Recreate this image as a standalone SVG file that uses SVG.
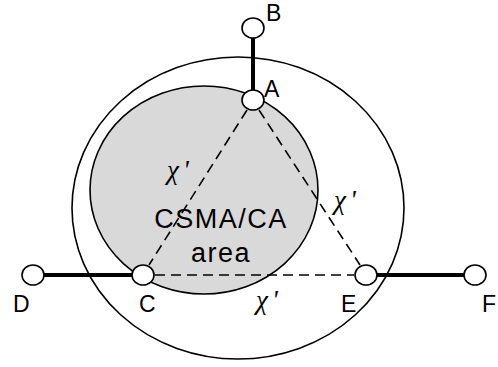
<svg xmlns="http://www.w3.org/2000/svg" width="498" height="367" viewBox="0 0 498 367">
<style>
.area{fill:none;stroke:#000;stroke-width:1.6}
.thick{stroke:#000;stroke-width:4;fill:none}
.dash{stroke:#000;stroke-width:1.6;stroke-dasharray:10 6;fill:none}
.node{fill:#fff;stroke:#000;stroke-width:1.6}
.lbl{font-family:"Liberation Sans",Arial,sans-serif;font-size:23px;fill:#000}
.big{font-family:"Liberation Sans",Arial,sans-serif;font-size:27px;letter-spacing:1.5px;fill:#000;text-anchor:middle}
.chi{font-family:"Liberation Serif","Times New Roman",serif;font-style:italic;font-size:27px;fill:#000}
</style>
<rect width="498" height="367" fill="#fff"/>
<g id="outer-range">
<ellipse cx="238" cy="208" rx="166" ry="151" class="area"/>
</g>
<g id="csma-area">
<ellipse cx="204" cy="190" rx="114" ry="104" fill="#d9d9d9" stroke="#000" stroke-width="1.6"/>
<text class="big" x="221" y="228">CSMA/CA</text>
<text class="big" x="221" y="262">area</text>
</g>
<g id="connectors">
<line x1="253" y1="38" x2="253" y2="90" class="thick"/>
<line x1="44" y1="275" x2="132" y2="275" class="thick"/>
<line x1="377" y1="275" x2="464" y2="275" class="thick"/>
<line x1="247" y1="110" x2="149" y2="265" class="dash"/>
<line x1="259" y1="110" x2="360" y2="265" class="dash"/>
<line x1="155" y1="275" x2="354" y2="275" class="dash"/>
</g>
<g id="labels-x">
<text class="chi" x="167" y="179">χ<tspan dx="4">'</tspan></text>
<text class="chi" x="334" y="209">χ<tspan dx="4">'</tspan></text>
<text class="chi" x="256" y="309">χ<tspan dx="4">'</tspan></text>
</g>
<g id="node-B">
<ellipse cx="253" cy="28" rx="11" ry="10" class="node"/>
<text class="lbl" x="266" y="21">B</text>
</g>
<g id="node-A">
<ellipse cx="253" cy="100" rx="11" ry="10" class="node"/>
<text class="lbl" x="264" y="97">A</text>
</g>
<g id="node-D">
<ellipse cx="33" cy="275" rx="11" ry="10" class="node"/>
<text class="lbl" x="13" y="312">D</text>
</g>
<g id="node-C">
<ellipse cx="143" cy="275" rx="11" ry="10" class="node"/>
<text class="lbl" x="139" y="312">C</text>
</g>
<g id="node-E">
<ellipse cx="366" cy="275" rx="11" ry="10" class="node"/>
<text class="lbl" x="341" y="312">E</text>
</g>
<g id="node-F">
<ellipse cx="475" cy="275" rx="11" ry="10" class="node"/>
<text class="lbl" x="482" y="312">F</text>
</g>
</svg>
